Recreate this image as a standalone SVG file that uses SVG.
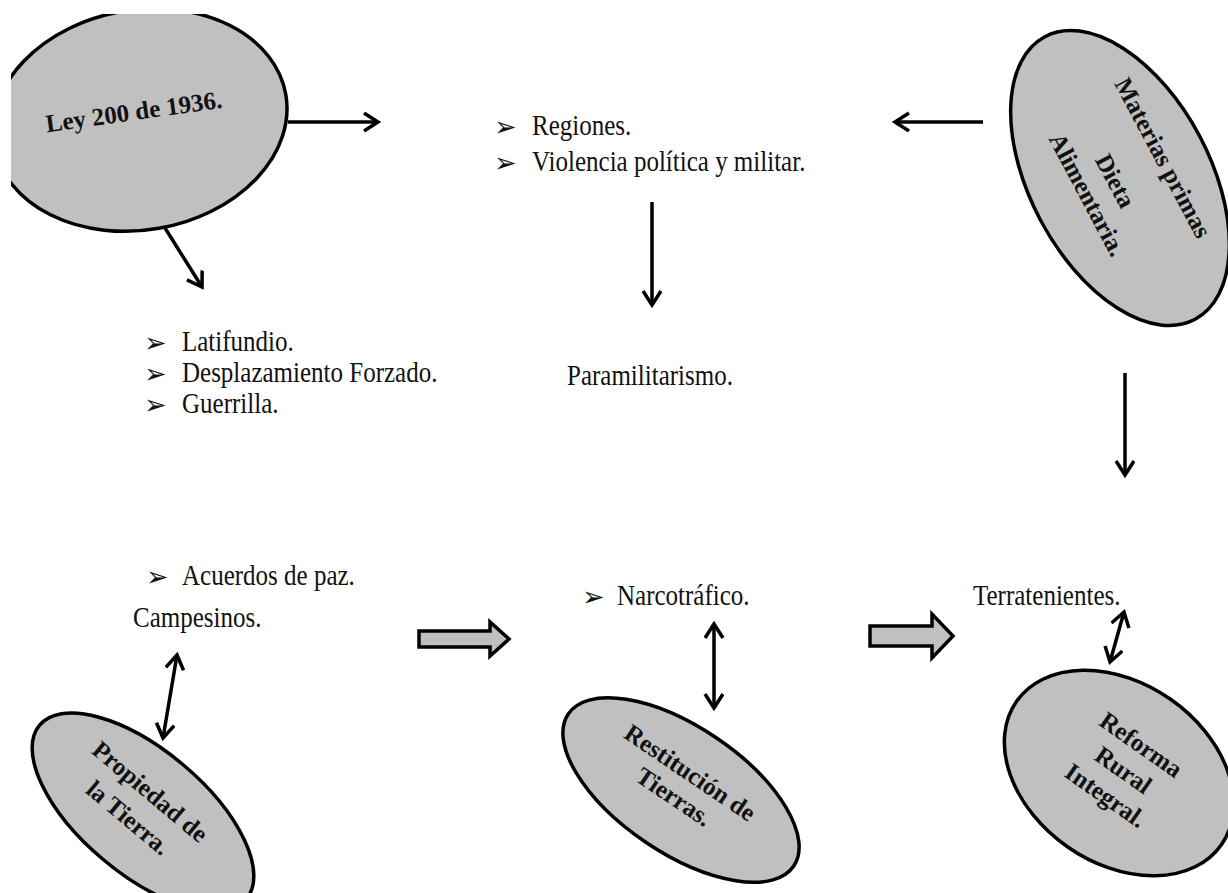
<svg xmlns="http://www.w3.org/2000/svg" width="1228" height="893" viewBox="0 0 1228 893">
<style>
.ell{fill:#c0c0c0;stroke:#000;stroke-width:3.5}
.t{font-family:"Liberation Serif","Times New Roman",serif;font-size:25px;fill:#111}
.bt{font-family:"Liberation Serif","Times New Roman",serif;font-size:25px;font-weight:bold;fill:#111;text-anchor:middle}
.b{font-family:"DejaVu Sans",sans-serif;font-size:27px;fill:#111}
.ln{stroke:#000;stroke-width:3.5;fill:none}
.blk{fill:#c0c0c0;stroke:#000;stroke-width:3.5;stroke-linejoin:miter}
</style>
<defs>
<marker id="ah" markerUnits="userSpaceOnUse" markerWidth="24" markerHeight="24" refX="17" refY="10" orient="auto-start-reverse">
<path d="M3,1 L17,10 L3,19" fill="none" stroke="#000" stroke-width="3.5"/>
</marker>
<clipPath id="clipTL"><rect x="11" y="14" width="600" height="400"/></clipPath>
</defs>
<rect width="1228" height="893" fill="#fff"/>

<g id="ley200">
<g clip-path="url(#clipTL)">
<ellipse class="ell" cx="140" cy="120" rx="148" ry="110" transform="rotate(-10 140 120)"/>
</g>
<text class="bt" transform="translate(135,120) rotate(-8)">Ley 200 de 1936.</text>
</g>

<g id="materias">
<ellipse class="ell" cx="1120" cy="178" rx="160" ry="90" transform="rotate(62 1120 178)"/>
<g transform="translate(1115,181) rotate(62)">
<text class="bt" x="2" y="-45">Materias primas</text>
<text class="bt" x="0" y="8">Dieta</text>
<text class="bt" x="-1" y="39">Alimentaria.</text>
</g>
</g>

<g id="regiones">
<text class="b" x="494" y="136">➢</text>
<text class="t" transform="translate(532,135) scale(1,1.2)">Regiones.</text>
<text class="b" x="494" y="172">➢</text>
<text class="t" transform="translate(532,171) scale(1,1.2)">Violencia política y militar.</text>
</g>

<g id="latifundio">
<text class="b" x="144" y="352">➢</text>
<text class="t" transform="translate(182,351) scale(1,1.2)">Latifundio.</text>
<text class="b" x="144" y="383">➢</text>
<text class="t" transform="translate(182,382) scale(1,1.2)">Desplazamiento Forzado.</text>
<text class="b" x="144" y="414">➢</text>
<text class="t" transform="translate(182,413) scale(1,1.2)">Guerrilla.</text>
</g>

<g id="paramilitarismo">
<text class="t" transform="translate(567,385) scale(1,1.2)">Paramilitarismo.</text>
</g>

<g id="acuerdos">
<text class="b" x="146" y="586">➢</text>
<text class="t" transform="translate(182,585) scale(1,1.2)">Acuerdos de paz.</text>
</g>

<g id="narcotrafico">
<text class="b" x="582" y="606">➢</text>
<text class="t" transform="translate(617,605) scale(1,1.2)">Narcotráfico.</text>
</g>

<g id="terratenientes">
<text class="t" transform="translate(973,605) scale(1,1.2)">Terratenientes.</text>
</g>

<g id="campesinos">
<text class="t" transform="translate(133,627) scale(1,1.2)">Campesinos.</text>
</g>

<g id="propiedad">
<ellipse class="ell" cx="143" cy="812" rx="135" ry="62" transform="rotate(40 143 812)"/>
<g transform="translate(150,792) rotate(40)">
<text class="bt" x="0" y="8">Propiedad de</text>
<text class="bt" x="0" y="42">la Tierra.</text>
</g>
</g>

<g id="restitucion">
<ellipse class="ell" cx="681" cy="790" rx="136" ry="63" transform="rotate(34 681 790)"/>
<g transform="translate(690,773) rotate(34)">
<text class="bt" x="0" y="8">Restitución de</text>
<text class="bt" x="0" y="37">Tierras.</text>
</g>
</g>

<g id="reforma">
<ellipse class="ell" cx="1119" cy="773" rx="125" ry="90" transform="rotate(35 1119 773)"/>
<g transform="translate(1141,745) rotate(35)">
<text class="bt" x="0" y="8">Reforma</text>
<text class="bt" x="0" y="39">Rural</text>
<text class="bt" x="0" y="70">Integral.</text>
</g>
</g>

<g id="connectors">
<line class="ln" x1="288" y1="122" x2="378" y2="122" marker-end="url(#ah)"/>
<line class="ln" x1="165" y1="228" x2="202" y2="287" marker-end="url(#ah)"/>
<line class="ln" x1="983" y1="122" x2="895" y2="122" marker-end="url(#ah)"/>
<line class="ln" x1="652" y1="202" x2="652" y2="305" marker-end="url(#ah)"/>
<line class="ln" x1="1125" y1="373" x2="1125" y2="475" marker-end="url(#ah)"/>
<line class="ln" x1="177" y1="655" x2="163" y2="738" marker-start="url(#ah)" marker-end="url(#ah)"/>
<line class="ln" x1="714" y1="624" x2="714" y2="708" marker-start="url(#ah)" marker-end="url(#ah)"/>
<line class="ln" x1="1124" y1="612" x2="1110" y2="662" marker-start="url(#ah)" marker-end="url(#ah)"/>
<path class="blk" d="M419,631 H490 V622 L509,639 L490,656 V647 H419 Z"/>
<path class="blk" d="M870,626 H932 V614 L953,636 L932,658 V646 H870 Z"/>
</g>
</svg>
